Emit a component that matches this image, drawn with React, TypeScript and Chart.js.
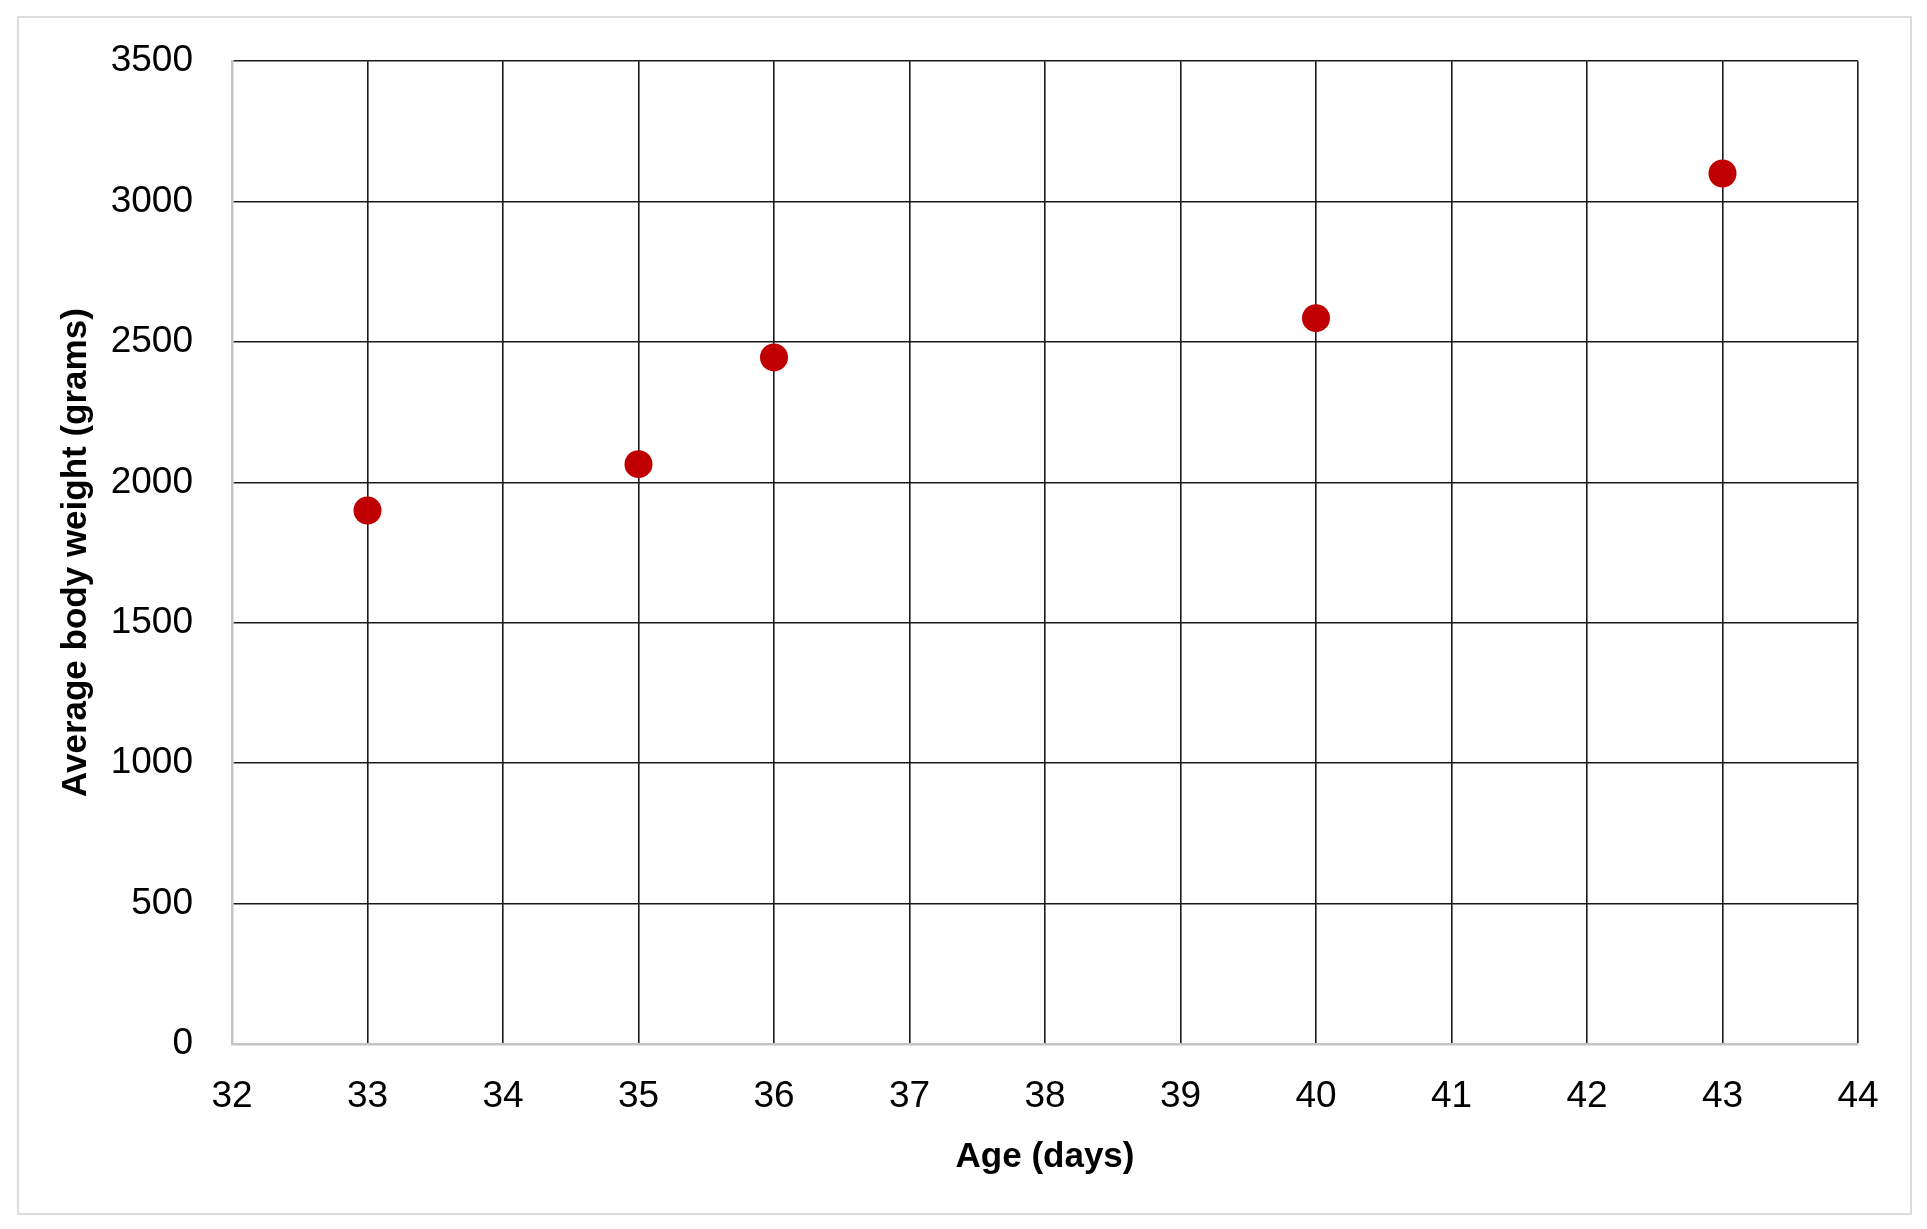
import { useEffect, useRef } from "react"
import { Chart, registerables } from "chart.js"

Chart.register(...registerables)

// Age (days) and average body weight (grams)
const ages = [33, 35, 36, 40, 43]
const weights = [1900, 2065, 2445, 2585, 3100]

const xMin = 32
const xMax = 44
const yMin = 0
const yMax = 3500
const yStep = 500

const xTitle = "Age (days)"
const yTitle = "Average body weight (grams)"

const FONT = "'Liberation Sans', Arial, sans-serif"

export default function App() {
  const canvasRef = useRef<HTMLCanvasElement>(null)
  const chartRef = useRef<Chart | null>(null)

  useEffect(() => {
    document.body.style.margin = "0"
    if (!canvasRef.current) return
    const ctx = canvasRef.current.getContext("2d")
    if (!ctx) return

    chartRef.current = new Chart(ctx, {
      type: "scatter",
      data: {
        datasets: [
          {
            label: "Weight",
            data: ages.map((a, i) => ({ x: a, y: weights[i] })),
            backgroundColor: "#C00000",
            borderWidth: 0,
            pointRadius: 14,
            pointHoverRadius: 14,
          },
        ],
      },
      options: {
        responsive: true,
        maintainAspectRatio: false,
        animation: false,
        layout: { padding: { top: 57, right: 69, left: 0, bottom: 0 } },
        plugins: {
          legend: { display: false },
          tooltip: { enabled: false },
        },
        scales: {
          x: {
            type: "linear",
            min: xMin,
            max: xMax,
            afterFit: (axis) => {
              axis.height = 185
            },
            ticks: {
              stepSize: 1,
              color: "#000",
              padding: 31,
              font: { family: FONT, size: 37 },
              callback: (v) => String(v),
            },
            grid: {
              drawTicks: false,
              lineWidth: 1.6,
              color: (c) => (c.tick && c.tick.value === xMin ? "rgba(0,0,0,0)" : "#1a1a1a"),
            },
            border: { display: true, color: "#c4c4c4", width: 2.5 },
            title: {
              display: true,
              text: xTitle,
              color: "#000",
              font: { family: FONT, size: 35, weight: "bold" },
              padding: { top: 0, bottom: 51 },
            },
          },
          y: {
            type: "linear",
            min: yMin,
            max: yMax,
            afterFit: (axis) => {
              axis.width = 232
            },
            ticks: {
              stepSize: yStep,
              color: "#000",
              padding: 39,
              font: { family: FONT, size: 37 },
              callback: (v) => String(v),
            },
            grid: {
              drawTicks: false,
              lineWidth: 1.6,
              color: (c) => (c.tick && c.tick.value === yMin ? "rgba(0,0,0,0)" : "#1a1a1a"),
            },
            border: { display: true, color: "#c4c4c4", width: 2.5 },
            title: {
              display: true,
              text: yTitle,
              color: "#000",
              font: { family: FONT, size: 35, weight: "bold" },
              padding: { top: 55, bottom: 0 },
            },
          },
        },
      },
    })

    return () => {
      if (chartRef.current) {
        chartRef.current.destroy()
        chartRef.current = null
      }
    }
  }, [])

  return (
    <div style={{ position: "relative", width: 1927, height: 1229, overflow: "hidden", background: "#fff" }}>
      <div
        style={{
          position: "absolute",
          left: 17,
          top: 16,
          width: 1891,
          height: 1195,
          border: "2px solid #dcdcdc",
          boxSizing: "content-box",
        }}
      />
      <div style={{ position: "absolute", left: 0, top: 0, width: 1927, height: 1229 }}>
        <canvas ref={canvasRef} />
      </div>
    </div>
  )
}
